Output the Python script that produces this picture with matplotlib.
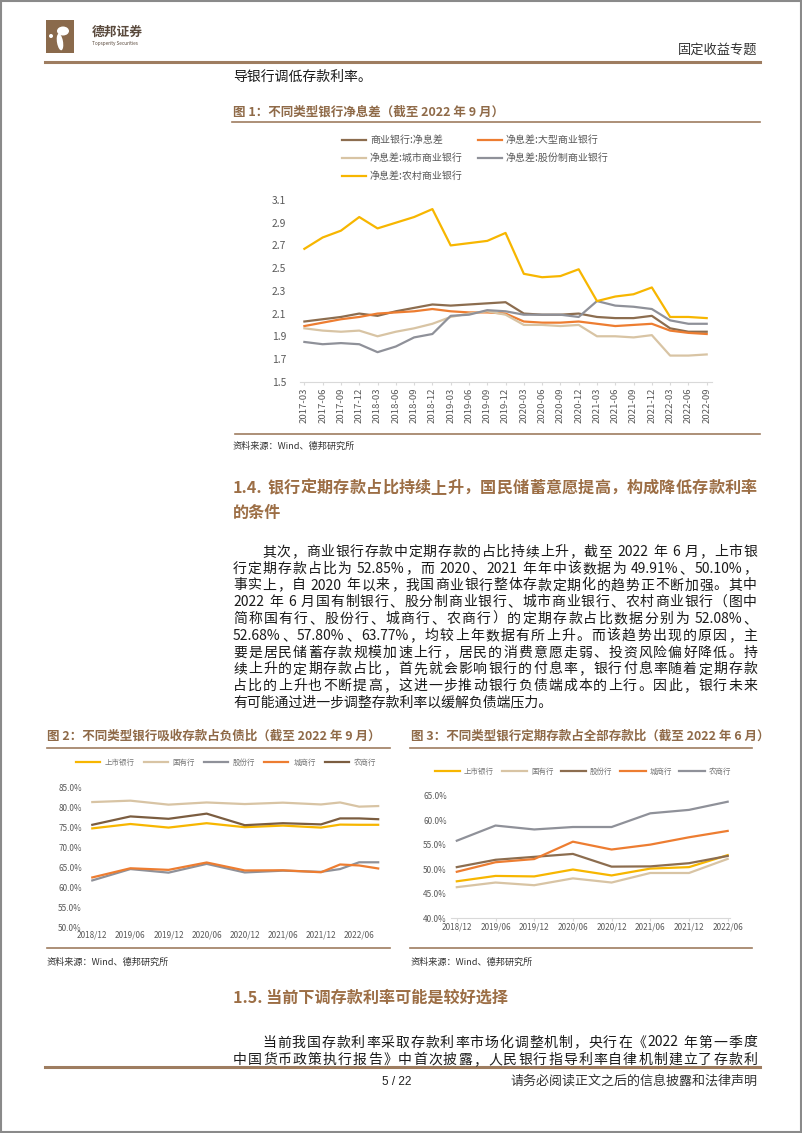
import re
import matplotlib
matplotlib.use("Agg")
import matplotlib.pyplot as plt
import numpy as np
from matplotlib.lines import Line2D
from matplotlib.patches import Rectangle, Ellipse

plt.rcParams['font.family'] = ['Noto Sans CJK SC', 'DejaVu Sans']

# ---------------- data ----------------
quarters = ['2017-03', '2017-06', '2017-09', '2017-12', '2018-03', '2018-06',
            '2018-09', '2018-12', '2019-03', '2019-06', '2019-09', '2019-12',
            '2020-03', '2020-06', '2020-09', '2020-12', '2021-03', '2021-06',
            '2021-09', '2021-12', '2022-03', '2022-06', '2022-09']
nim_all = [2.03, 2.05, 2.07, 2.10, 2.08, 2.12, 2.15, 2.18, 2.17, 2.18, 2.19, 2.20,
           2.10, 2.09, 2.09, 2.10, 2.07, 2.06, 2.06, 2.08, 1.97, 1.94, 1.94]
nim_large = [1.99, 2.02, 2.05, 2.07, 2.10, 2.11, 2.12, 2.14, 2.12, 2.11, 2.11, 2.10,
             2.03, 2.02, 2.02, 2.03, 2.01, 1.99, 2.00, 2.01, 1.95, 1.93, 1.92]
nim_city = [1.97, 1.95, 1.94, 1.95, 1.90, 1.94, 1.97, 2.01, 2.07, 2.10, 2.12, 2.09,
            2.00, 2.00, 1.99, 2.00, 1.90, 1.90, 1.89, 1.91, 1.73, 1.73, 1.74]
nim_joint = [1.85, 1.83, 1.84, 1.83, 1.76, 1.81, 1.89, 1.92, 2.08, 2.09, 2.13, 2.12,
             2.09, 2.09, 2.09, 2.07, 2.21, 2.17, 2.16, 2.14, 2.04, 2.01, 2.01]
nim_rural = [2.67, 2.77, 2.83, 2.95, 2.85, 2.90, 2.95, 3.02, 2.70, 2.72, 2.74, 2.81,
             2.45, 2.42, 2.43, 2.49, 2.21, 2.25, 2.27, 2.33, 2.07, 2.07, 2.06]
nim_yticks = [1.5, 1.7, 1.9, 2.1, 2.3, 2.5, 2.7, 2.9, 3.1]

half_labels = ['2018/12', '2019/06', '2019/12', '2020/06', '2020/12', '2021/06',
               '2021/12', '2022/06']
dep_dates = ['2018/12', '2019/06', '2019/12', '2020/06', '2020/12', '2021/06',
             '2021/12', '2022/03', '2022/06', '2022/09']
dep_listed = [74.8, 75.9, 75.0, 76.1, 75.1, 75.5, 75.0, 75.75, 75.7, 75.7]
dep_state = [81.4, 81.75, 80.75, 81.3, 80.9, 81.25, 80.8, 81.3, 80.25, 80.4]
dep_joint = [61.75, 64.6, 63.7, 65.9, 63.75, 64.2, 63.9, 64.6, 66.3, 66.3]
dep_city = [62.5, 64.8, 64.4, 66.25, 64.25, 64.3, 63.8, 65.75, 65.5, 64.75]
dep_rural = [75.7, 77.8, 77.2, 78.5, 75.6, 76.1, 75.8, 77.3, 77.3, 77.1]
dep_yticks = [50, 55, 60, 65, 70, 75, 80, 85]

term_listed = [47.5, 48.6, 48.5, 49.91, 48.7, 50.10, 50.4, 52.85]
term_state = [46.3, 47.25, 46.7, 48.1, 47.25, 49.2, 49.2, 52.08]
term_joint = [50.4, 51.9, 52.5, 53.1, 50.5, 50.55, 51.2, 52.68]
term_city = [49.45, 51.4, 52.05, 55.6, 54.0, 55.0, 56.5, 57.80]
term_rural = [55.8, 58.9, 58.1, 58.6, 58.6, 61.4, 62.1, 63.77]
term_yticks = [40, 45, 50, 55, 60, 65]

bank_names = ['上市银行', '国有行', '股份行', '城商行', '农商行']

para_14 = [
    '其次，商业银行存款中定期存款的占比持续上升，截至 2022 年 6 月，上市银',
    '行定期存款占比为 52.85%，而 2020、2021 年年中该数据为 49.91%、50.10%，',
    '事实上，自 2020 年以来，我国商业银行整体存款定期化的趋势正不断加强。其中',
    '2022 年 6 月国有制银行、股分制商业银行、城市商业银行、农村商业银行（图中',
    '简称国有行、股份行、城商行、农商行）的定期存款占比数据分别为 52.08%、',
    '52.68%、57.80%、63.77%，均较上年数据有所上升。而该趋势出现的原因，主',
    '要是居民储蓄存款规模加速上行，居民的消费意愿走弱、投资风险偏好降低。持',
    '续上升的定期存款占比，首先就会影响银行的付息率，银行付息率随着定期存款',
    '占比的上升也不断提高，这进一步推动银行负债端成本的上行。因此，银行未来',
    '有可能通过进一步调整存款利率以缓解负债端压力。',
]
para_15 = [
    '当前我国存款利率采取存款利率市场化调整机制，央行在《2022 年第一季度',
    '中国货币政策执行报告》中首次披露，人民银行指导利率自律机制建立了存款利',
]

# ---------------- colours ----------------
BROWN = '#8c6d4f'
DARK_BROWN = '#7b5d40'
ORANGE = '#ed7d31'
BEIGE = '#d8c4a4'
GRAY = '#8f9199'
YELLOW = '#f7b600'
RULE = '#9e7d60'
TITLE = '#8f6a48'
HEAD = '#9c6e45'
TICK = '#595959'

W, H = 802, 1133
fig = plt.figure(figsize=(W / 100, H / 100), dpi=100)
fig.patch.set_facecolor('white')


def fx(x):
    return x / W


def fy(y):
    return 1 - y / H


def px_axes(x0, y0, x1, y1):
    return fig.add_axes([fx(x0), fy(y1), (x1 - x0) / W, (y1 - y0) / H])


def hline(x0, x1, y, color=RULE, lw=1.2):
    fig.add_artist(Line2D([fx(x0), fx(x1)], [fy(y), fy(y)], color=color, lw=lw))


TOKEN = re.compile(r'( *)([\x21-\x7e]+|[^\x20-\x7e])')


def text_line(s, x0, y, size, color='#1a1a1a', x1=None, **kw):
    """Draw one line of text with baseline y; if x1 is given, stretch it to x1."""
    if x1 is None:
        return fig.text(fx(x0), fy(y), s, fontsize=size, color=color, va='baseline', **kw)
    parts = TOKEN.findall(s)
    objs = [fig.text(fx(x0), fy(y), tok, fontsize=size, color=color, va='baseline', **kw)
            for _, tok in parts]
    r = fig.canvas.get_renderer()
    widths = [o.get_window_extent(r).width for o in objs]
    space = size * 100 / 72 * 0.3
    pads = [len(sp) for sp, _ in parts]
    natural = sum(widths) + space * sum(pads[1:])
    gap = ((x1 - x0) - natural) / max(len(objs) - 1, 1)
    x = x0
    for i, (o, w) in enumerate(zip(objs, widths)):
        if i > 0:
            x += gap + pads[i] * space
        o.set_x(fx(x))
        x += w
    return objs


def quarter_pos(date):
    y, m = date.split('/')
    return (int(y) - 2018) * 4 + int(m) // 3 - 4


# ---------------- page frame / header ----------------
fig.add_artist(Rectangle((0.001, 0.001), 0.998, 0.998, transform=fig.transFigure,
                         fill=False, ec='#8a8a8a', lw=1.5))
fig.add_artist(Rectangle((fx(46), fy(53)), 28 / W, 33 / H, transform=fig.transFigure,
                         fc='#8a6a4c', ec='none'))
fig.add_artist(Ellipse((fx(63), fy(31)), 12 / W, 9 / H, transform=fig.transFigure,
                       fc='white', ec='none'))
fig.add_artist(Ellipse((fx(60), fy(42)), 6 / W, 17 / H, angle=15, transform=fig.transFigure,
                       fc='white', ec='none'))
fig.add_artist(Ellipse((fx(51), fy(36)), 4 / W, 4 / H, transform=fig.transFigure,
                       fc='white', ec='none'))
text_line('德邦证券', 92, 36, 9.2, color='#5a4a3d', fontweight='bold')
text_line('Topsperity Securities', 92, 44.5, 3.4, color='#5a4a3d')
fig.text(fx(757), fy(54), '固定收益专题', fontsize=9.5, color='#333333', ha='right', va='baseline')
hline(45, 760, 62, lw=2.2)

BODY = 10
text_line('导银行调低存款利率。', 233, 81, BODY)

# ---------------- figure 1 ----------------
text_line('图 1：不同类型银行净息差（截至 2022 年 9 月）', 233, 116, 9, color=TITLE, fontweight='bold')
hline(232, 760, 122)

ax1 = px_axes(300, 200, 712, 381.7)
x = np.arange(len(quarters))
l_all, = ax1.plot(x, nim_all, color=BROWN, lw=1.6, label='商业银行:净息差')
l_large, = ax1.plot(x, nim_large, color=ORANGE, lw=1.6, label='净息差:大型商业银行')
l_city, = ax1.plot(x, nim_city, color=BEIGE, lw=1.6, label='净息差:城市商业银行')
l_joint, = ax1.plot(x, nim_joint, color=GRAY, lw=1.6, label='净息差:股份制商业银行')
l_rural, = ax1.plot(x, nim_rural, color=YELLOW, lw=1.6, label='净息差:农村商业银行')
ax1.set_xlim(-0.24, 22.29)
ax1.set_ylim(1.5, 3.1)
ax1.set_yticks(nim_yticks)
ax1.set_yticklabels([f'{v:.1f}' for v in nim_yticks])
ax1.set_xticks(x)
ax1.set_xticklabels(quarters, rotation=90)
for s in ['top', 'right', 'left']:
    ax1.spines[s].set_visible(False)
ax1.spines['bottom'].set_color('#d9d9d9')
ax1.tick_params(axis='y', length=0, pad=10, labelsize=7.4, labelcolor=TICK)
ax1.tick_params(axis='x', length=2, color='#d9d9d9', pad=2, labelsize=6.9, labelcolor=TICK)
leg_order = [l_all, l_city, l_rural, l_large, l_joint]
fig.legend(leg_order, [h.get_label() for h in leg_order],
           loc='upper left', bbox_to_anchor=(fx(342), fy(135)), ncol=2, frameon=False,
           fontsize=7.2, handlelength=2.4, handletextpad=0.4, columnspacing=1.5,
           labelspacing=0.82, borderpad=0, borderaxespad=0, labelcolor=TICK)

hline(235, 760, 434)
text_line('资料来源：Wind、德邦研究所', 233, 449, 6.6, color='#333333')

# ---------------- section 1.4 ----------------
text_line('1.4. 银行定期存款占比持续上升，国民储蓄意愿提高，构成降低存款利率', 233, 493, 11.6,
          color=HEAD, x1=757, fontweight='bold')
text_line('的条件', 233, 518, 11.6, color=HEAD, fontweight='bold')
for i, line in enumerate(para_14):
    y = 556 + i * 16.75
    x0 = 262 if i == 0 else 233
    last = i == len(para_14) - 1
    text_line(line, x0, y, BODY, x1=None if last else 757)

# ---------------- figure 2 ----------------
text_line('图 2：不同类型银行吸收存款占负债比（截至 2022 年 9 月）', 47, 740, 9, color=TITLE, fontweight='bold')
hline(47, 390, 748)
ax2 = px_axes(86, 787.7, 382, 927.3)
qx = [quarter_pos(d) for d in dep_dates]
colors2 = [YELLOW, BEIGE, GRAY, ORANGE, DARK_BROWN]
series2 = [dep_listed, dep_state, dep_joint, dep_city, dep_rural]
handles2 = []
for vals, c, name in zip(series2, colors2, bank_names):
    h, = ax2.plot(qx, vals, color=c, lw=1.6, label=name)
    handles2.append(h)
ax2.set_xlim(-0.33, 15.2)
ax2.set_ylim(50, 85)
ax2.set_yticks(dep_yticks)
ax2.set_yticklabels([f'{v:.1f}%' for v in dep_yticks])
ax2.set_xticks([quarter_pos(d) for d in half_labels])
ax2.set_xticklabels(half_labels)
for s in ax2.spines.values():
    s.set_visible(False)
ax2.tick_params(length=0, labelsize=5.9, labelcolor=TICK)
ax2.tick_params(axis='y', pad=3)
ax2.tick_params(axis='x', pad=2)
fig.legend(handles2, bank_names, loc='center', bbox_to_anchor=(fx(226), fy(763)),
           ncol=5, frameon=False, fontsize=5.4, handlelength=3.2, handletextpad=0.65,
           columnspacing=1.2, borderpad=0, labelcolor='#777777')
hline(47, 390, 948)
text_line('资料来源：Wind、德邦研究所', 47, 965, 6.6, color='#333333')

# ---------------- figure 3 ----------------
text_line('图 3：不同类型银行定期存款占全部存款比（截至 2022 年 6 月）', 411, 740, 9, color=TITLE, fontweight='bold')
hline(410, 752, 748)
ax3 = px_axes(451, 795.7, 730, 918)
hx = np.arange(len(half_labels))
colors3 = [YELLOW, BEIGE, BROWN, ORANGE, GRAY]
series3 = [term_listed, term_state, term_joint, term_city, term_rural]
handles3 = []
for vals, c, name in zip(series3, colors3, bank_names):
    h, = ax3.plot(hx, vals, color=c, lw=1.6, label=name)
    handles3.append(h)
ax3.set_xlim(-0.15, 7.06)
ax3.set_ylim(40, 65)
ax3.set_yticks(term_yticks)
ax3.set_yticklabels([f'{v:.1f}%' for v in term_yticks])
ax3.set_xticks(hx)
ax3.set_xticklabels(half_labels)
for s in ['top', 'right', 'left']:
    ax3.spines[s].set_visible(False)
ax3.spines['bottom'].set_color('#d9d9d9')
ax3.tick_params(axis='y', length=0, pad=3, labelsize=5.9, labelcolor=TICK)
ax3.tick_params(axis='x', length=2, color='#d9d9d9', pad=1, labelsize=5.9, labelcolor=TICK)
fig.legend(handles3, bank_names, loc='center', bbox_to_anchor=(fx(583), fy(772)),
           ncol=5, frameon=False, fontsize=5.4, handlelength=3.4, handletextpad=0.5,
           columnspacing=1.0, borderpad=0, labelcolor='#777777')
hline(410, 752, 948)
text_line('资料来源：Wind、德邦研究所', 411, 965, 6.6, color='#333333')

# ---------------- section 1.5 ----------------
text_line('1.5. 当前下调存款利率可能是较好选择', 233, 1003, 11.6, color=HEAD, fontweight='bold')
for i, line in enumerate(para_15):
    text_line(line, 262 if i == 0 else 233, 1046.5 + i * 17.5, BODY, x1=757)

# ---------------- footer ----------------
hline(45, 760, 1067, lw=2.2)
fig.text(fx(397), fy(1085), '5 / 22', fontsize=8.5, color='#222222', ha='center', va='baseline',
         family=['Liberation Sans', 'DejaVu Sans'])
fig.text(fx(757), fy(1085), '请务必阅读正文之后的信息披露和法律声明', fontsize=9.4, color='#333333',
         ha='right', va='baseline')

fig.savefig('out.png', dpi=100)
